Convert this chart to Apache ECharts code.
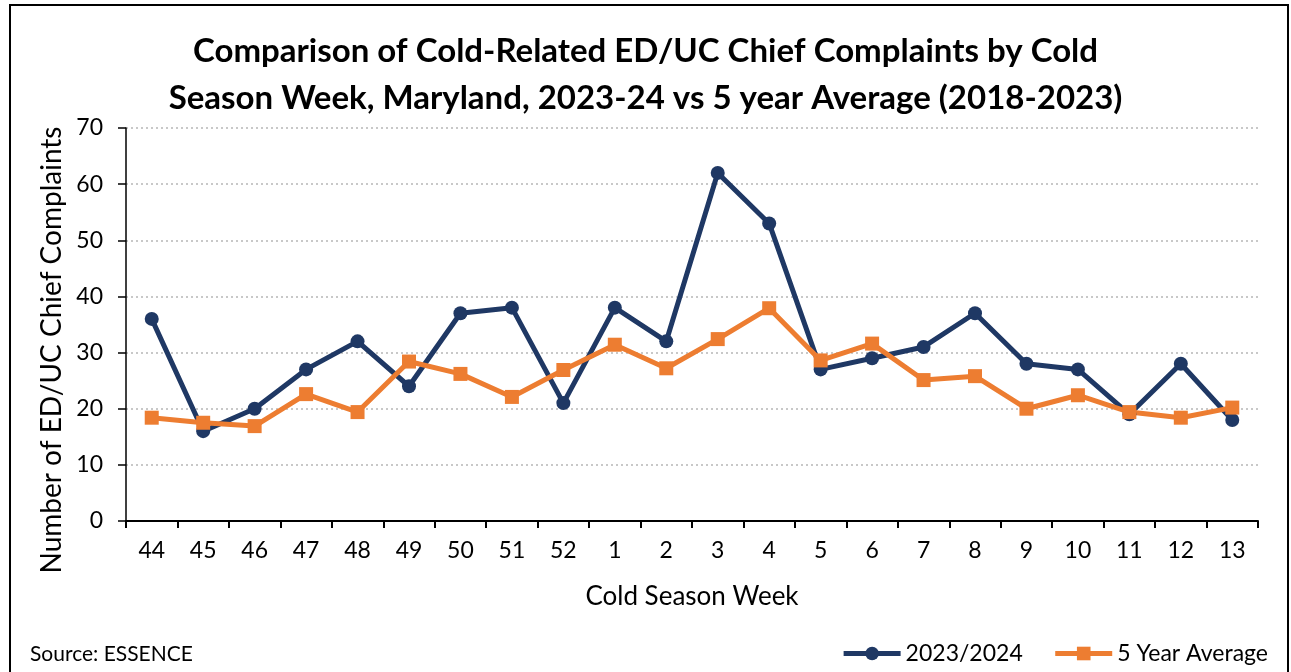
<!DOCTYPE html>
<html>
<head>
<meta charset="utf-8">
<script src="https://cdn.jsdelivr.net/npm/echarts@6/dist/echarts.min.js"></script>
<style>
  html, body { margin: 0; padding: 0; background: #fff; }
  #chart { width: 1291px; height: 672px; }
</style>
</head>
<body>
<div id="chart"></div>
<script>
// weeks of the cold season
var weeks = ['44', '45', '46', '47', '48', '49', '50', '51', '52', '1', '2', '3', '4', '5', '6', '7', '8', '9', '10', '11', '12', '13'];
// 2023/2024 season
var season2324 = [36, 16, 20, 27, 32, 24, 37, 38, 21, 38, 32, 62, 53, 27, 29, 31, 37, 28, 27, 19, 28, 18];
// 5 year average 2018-2023
var fiveYearAvg = [18.4, 17.5, 16.9, 22.6, 19.4, 28.4, 26.2, 22.1, 26.9, 31.4, 27.2, 32.4, 37.9, 28.6, 31.6, 25.1, 25.8, 20.0, 22.4, 19.4, 18.4, 20.2];

var font = 'Lato, "Open Sans", sans-serif';
var chart = echarts.init(document.getElementById('chart'));

chart.setOption({
    animation: false,
    textStyle: { fontFamily: font },
    title: {
        text: 'Comparison of Cold-Related ED/UC Chief Complaints by Cold\nSeason Week, Maryland, 2023-24 vs 5 year Average (2018-2023)',
        left: 'center',
        top: 23,
        textStyle: { fontSize: 33, fontWeight: 'bold', color: '#000', lineHeight: 47, fontFamily: font, align: 'center' }
    },
    grid: { left: 126, right: 33, top: 128, bottom: 151, containLabel: false },
    legend: {
        right: 18,
        bottom: 2,
        itemWidth: 57,
        itemHeight: 17,
        itemGap: 30,
        lineStyle: { width: 5 },
        textStyle: { fontSize: 23, color: '#000', fontFamily: font },
        data: ['2023/2024', '5 Year Average']
    },
    xAxis: {
        type: 'category',
        data: weeks,
        name: 'Cold Season Week',
        nameLocation: 'middle',
        nameGap: 63,
        nameTextStyle: { fontSize: 26, color: '#000' },
        axisLine: { lineStyle: { color: '#000', width: 2 } },
        axisTick: { show: true, length: 7, lineStyle: { color: '#000', width: 2 } },
        axisLabel: { fontSize: 23, color: '#000', margin: 18 },
        splitLine: { show: false }
    },
    yAxis: {
        type: 'value',
        min: 0,
        max: 70,
        interval: 10,
        axisLine: { show: true, lineStyle: { color: '#000', width: 1.5 } },
        axisTick: { show: true, length: 8, lineStyle: { color: '#000', width: 1.5 } },
        axisLabel: { fontSize: 23, color: '#000', margin: 23 },
        splitLine: { lineStyle: { color: '#c8c8c8', type: [2, 3], width: 2 } }
    },
    series: [
        {
            name: '2023/2024',
            type: 'line',
            data: season2324,
            symbol: 'circle',
            symbolSize: 14,
            itemStyle: { color: '#1F3864' },
            lineStyle: { color: '#1F3864', width: 5 }
        },
        {
            name: '5 Year Average',
            type: 'line',
            data: fiveYearAvg,
            symbol: 'rect',
            symbolSize: 14,
            itemStyle: { color: '#ED7D31' },
            lineStyle: { color: '#ED7D31', width: 5 }
        }
    ],
    graphic: [
        {
            type: 'rect',
            shape: { x: 10, y: 5, width: 1278, height: 700 },
            style: { fill: 'none', stroke: '#000', lineWidth: 2 },
            silent: true
        },
        {
            // y axis title, sits a little below the plot centre like the original
            type: 'text',
            x: 52,
            y: 350,
            rotation: Math.PI / 2,
            style: {
                text: 'Number of ED/UC Chief Complaints',
                fontSize: 28, fill: '#000', fontFamily: font,
                align: 'center', verticalAlign: 'middle'
            }
        },
        {
            type: 'text',
            left: 30,
            top: 644,
            style: { text: 'Source: ESSENCE', fontSize: 21, fill: '#000', fontFamily: font }
        }
    ]
});
</script>
</body>
</html>
